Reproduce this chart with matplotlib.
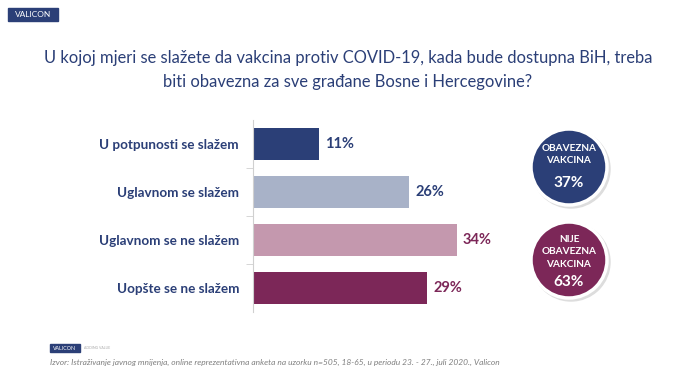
import matplotlib.pyplot as plt
from matplotlib.patches import Circle, Rectangle

# data
categories = ['U potpunosti se slažem', 'Uglavnom se slažem',
              'Uglavnom se ne slažem', 'Uopšte se ne slažem']
values = [11, 26, 34, 29]
bar_colors = ['#2b3f77', '#a8b2c8', '#c498ae', '#7c2758']
label_colors = ['#2b3f77', '#2b3f77', '#7c2758', '#7c2758']
circle_texts = ['OBAVEZNA\nVAKCINA', 'NIJE\nOBAVEZNA\nVAKCINA']
circle_values = [37, 63]
circle_colors = ['#2b3f77', '#7c2758']

title = ('U kojoj mjeri se slažete da vakcina protiv COVID-19, kada bude dostupna BiH, treba\n'
         'biti obavezna za sve građane Bosne i Hercegovine?')
source = ('Izvor: Istraživanje javnog mnijenja, online reprezentativna anketa na uzorku n=505, '
          '18-65, u periodu 23. - 27., juli 2020., Valicon')

navy = '#2b3f77'
plt.rcParams['font.family'] = ['Lato', 'DejaVu Sans']

W, H = 696, 376
fig = plt.figure(figsize=(W / 100, H / 100), dpi=100)
fig.patch.set_facecolor('white')

# bar axes (pixel layout: x=0 at px 253, 6 px per %)
ax = fig.add_axes([253 / W, 1 - 312 / H, 240 / W, 192 / H])
ypos = list(range(len(categories)))
ax.barh(ypos, values, height=0.66, color=bar_colors)
ax.set_xlim(0, 40)
ax.set_ylim(3.5, -0.5)
for y, v, c in zip(ypos, values, label_colors):
    ax.text(v + 1.0, y, f'{v}%', va='center', ha='left', fontsize=10.5,
            fontweight='bold', color=c)
ax.set_yticks(ypos)
ax.set_yticklabels(categories, fontsize=9.7, fontweight='bold', color=navy)
ax.set_yticks([0.5, 1.5, 2.5], minor=True)
ax.tick_params(axis='y', which='major', length=0, pad=10)
ax.tick_params(axis='y', which='minor', length=5, color='#d0d0d0')
ax.set_xticks([])
for s in ['top', 'right', 'bottom']:
    ax.spines[s].set_visible(False)
ax.spines['left'].set_color('#d0d0d0')

# overlay in pixel coordinates
ov = fig.add_axes([0, 0, 1, 1])
ov.set_xlim(0, W)
ov.set_ylim(H, 0)
ov.axis('off')
ov.patch.set_alpha(0)

# circles: (centre, label block offset, value offset)
centers = [(569, 167), (569, 260)]
text_dy = [-12.5, -8]
value_dy = [16, 22]
for (cx, cy), txt, val, col, tdy, vdy in zip(centers, circle_texts, circle_values,
                                             circle_colors, text_dy, value_dy):
    ov.add_patch(Circle((cx + 2, cy + 2), 39, color='#dddddd', zorder=1))
    ov.add_patch(Circle((cx, cy), 38, facecolor=col, edgecolor='white', lw=2.5, zorder=2))
    ov.text(cx, cy + tdy, txt, ha='center', va='center', color='white', fontsize=7.2,
            fontweight='bold', linespacing=1.5, zorder=3)
    ov.text(cx, cy + vdy, f'{val}%', ha='center', va='center',
            color='white', fontsize=11, fontweight='bold', zorder=3)

# title
ov.text(348, 70, title, ha='center', va='center', fontsize=11.9, color=navy,
        linespacing=1.6)

# top-left logo
ov.add_patch(Rectangle((8, 8), 50, 13, color=navy))
ov.text(33, 14.5, 'VALICON', ha='center', va='center', color='white', fontsize=6)

# footer logo and source
ov.add_patch(Rectangle((50, 344), 30, 8, color=navy))
ov.text(65, 348, 'VALICON', ha='center', va='center', color='white', fontsize=3.8)
ov.text(84, 348, 'ADDING VALUE', ha='left', va='center', color='#aaaaaa', fontsize=2.5)
ov.text(50, 362, source, ha='left', va='center', color='#7f7f7f', fontsize=6.0,
        style='italic')

fig.savefig('out.png', dpi=100)
